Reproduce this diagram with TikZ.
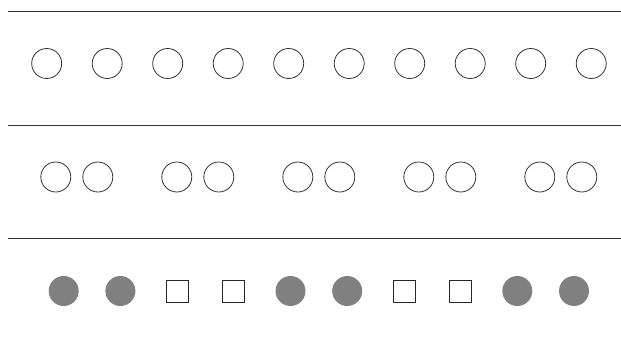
\documentclass[tikz,border=0pt]{standalone}
\begin{document}
\begin{tikzpicture}[x=1pt,y=-1pt,
    ring/.style={circle,draw=black!80,line width=0.8pt,minimum size=30pt,inner sep=0pt},
    dot/.style={circle,fill=black!50,minimum size=30pt,inner sep=0pt},
    box/.style={rectangle,draw=black!85,line width=0.8pt,minimum size=22pt,inner sep=0pt}]
    \useasboundingbox (0,0) rectangle (621,347);
    % rules
    \foreach \y in {11,125,238}
        \draw[black!80,line width=0.8pt] (8,\y) -- (621,\y);
    % row 1
    \foreach \i in {0,...,9}
        \node[ring] (a\i) at (46.7+60.5*\i,63.5) {};
    % row 2
    \foreach \i in {0,...,4} {
        \node[ring] (b\i l) at (55.8+121*\i,177) {};
        \node[ring] (b\i r) at (97.8+121*\i,177) {};
    }
    % row 3
    \foreach \i/\s in {0/dot,1/dot,2/box,3/box,4/dot,5/dot,6/box,7/box,8/dot,9/dot}
        \node[\s] (c\i) at (63.7+56.7*\i,291) {};
\end{tikzpicture}
\end{document}
